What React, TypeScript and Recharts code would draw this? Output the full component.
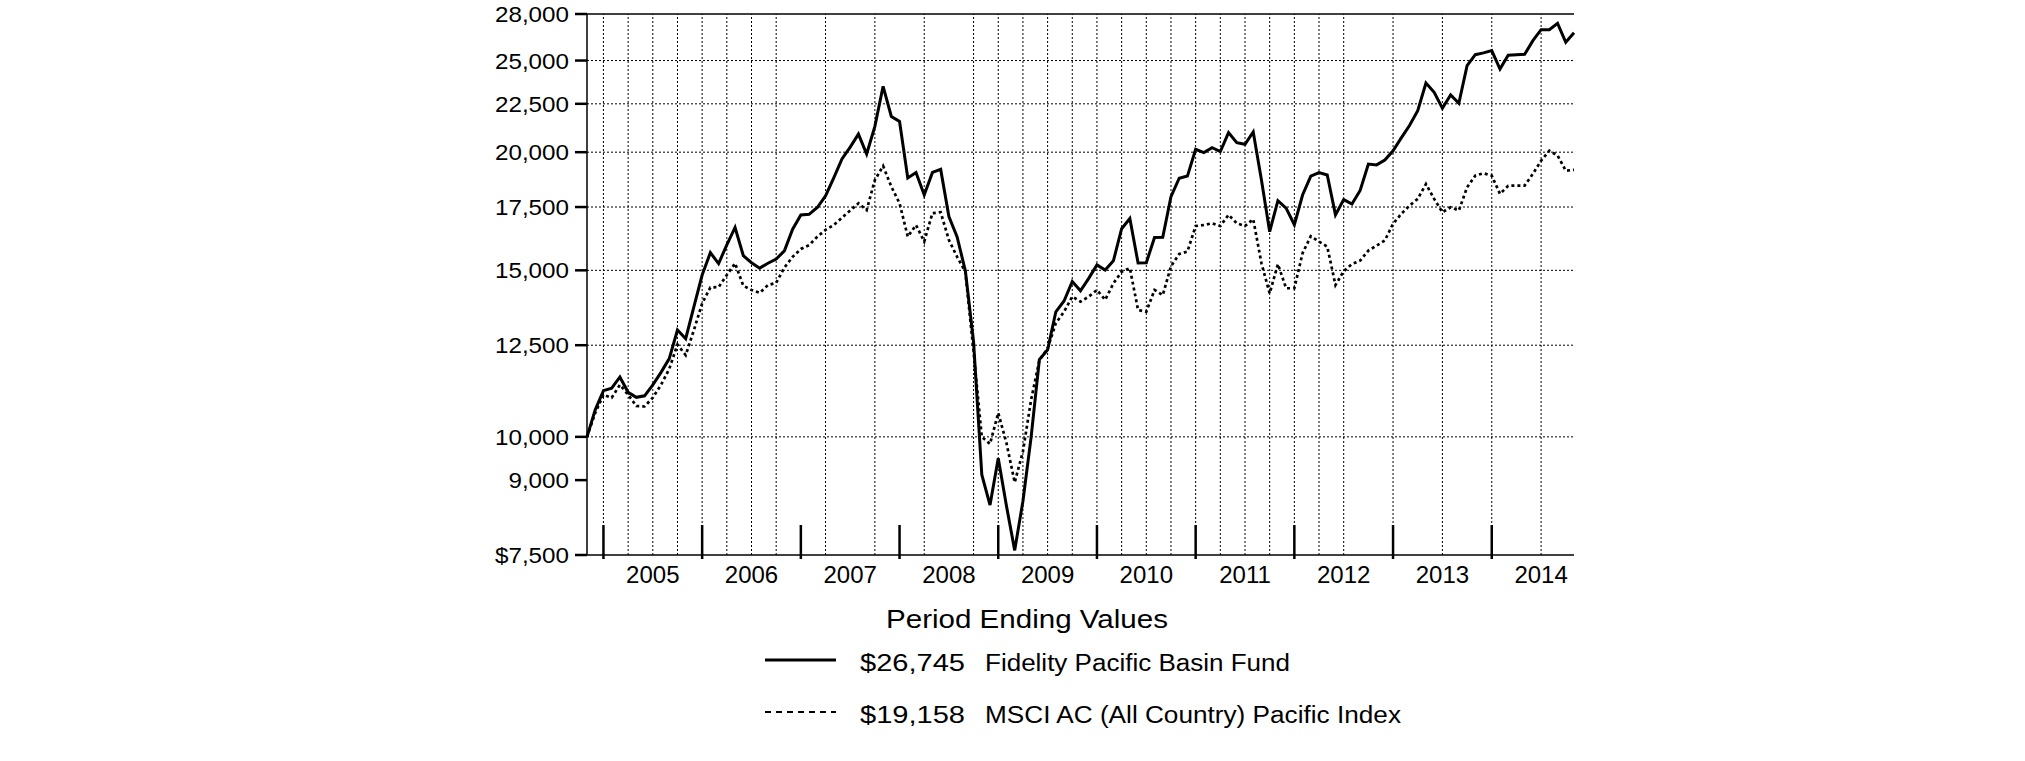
import { LineChart, Line, XAxis, YAxis, ReferenceLine } from "recharts";

// monthly period-ending values, Oct 2004 (m = 0) through Oct 2014 (m = 120)
const fund = [
  10000, 10680, 11190, 11260, 11570, 11145, 11010, 11050, 11350, 11700, 12100, 12970,
  12700, 13730, 14830, 15660, 15250, 15960, 16650, 15550, 15280, 15080, 15260, 15420,
  15730, 16580, 17165, 17190, 17480, 17980, 18790, 19670, 20250, 20900, 19910, 21300,
  23480, 21820, 21550, 18780, 19030, 18020, 19040, 19180, 17100, 16270, 14980, 12600,
  9120, 8470, 9490, 8450, 7585, 8550, 10000, 12070, 12360, 13560, 13920, 14600,
  14270, 14710, 15200, 15010, 15350, 16600, 17020, 15270, 15280, 16250, 16260, 17950,
  18770, 18870, 20140, 19980, 20220, 20030, 20980, 20470, 20390, 21010, 18690, 16480,
  17770, 17450, 16760, 18020, 18870, 19030, 18920, 17170, 17820, 17630, 18220, 19430,
  19390, 19620, 20070, 20710, 21340, 22130, 23670, 23140, 22260, 22990, 22530, 24690,
  25360, 25470, 25610, 24490, 25330, 25360, 25380, 26240, 26950, 26950, 27370, 26140,
  26745,
];

const msci = [
  10000, 10600, 11080, 11000, 11350, 11080, 10780, 10770, 11000, 11350, 11800, 12520,
  12200, 12970, 13840, 14390, 14400, 14830, 15260, 14450, 14300, 14200, 14470, 14550,
  15100, 15500, 15800, 15950, 16280, 16550, 16750, 17050, 17350, 17660, 17370, 18690,
  19340, 18390, 17660, 16280, 16750, 16090, 17240, 17280, 16150, 15500, 14950, 12300,
  10000, 9830, 10600, 9850, 8950, 9650, 10950, 12050, 12400, 13190, 13560, 14070,
  13900, 14070, 14300, 13960, 14530, 14950, 15080, 13620, 13560, 14300, 14120, 15150,
  15610, 15700, 16710, 16750, 16820, 16710, 17170, 16820, 16710, 16990, 15260, 14180,
  15230, 14360, 14360, 15640, 16300, 16090, 15890, 14470, 14970, 15230, 15360, 15740,
  15930, 16130, 16800, 17210, 17560, 17850, 18510, 17850, 17280, 17490, 17350, 18360,
  18890, 19000, 18890, 18070, 18430, 18440, 18440, 18970, 19590, 20070, 19840, 19120,
  19158,
];

const seriesNames = ["Fidelity Pacific Basin Fund", "MSCI AC (All Country) Pacific Index"];

const yearLabels = ["2005", "2006", "2007", "2008", "2009", "2010", "2011", "2012", "2013", "2014"];
const yearLabelMonths = [8, 20, 32, 44, 56, 68, 80, 92, 104, 116]; // mid-year
const yearEndMonths = [2, 14, 26, 38, 50, 62, 74, 86, 98, 110]; // Dec of each year
// quarter-end grid lines that show in the original
const gridMonths = [
  2, 5, 8, 11, 14, 17, 20, 23, 29, 35, 41, 47, 50, 53, 56, 59, 62, 65, 68, 71, 74, 77,
  80, 83, 86, 89, 92, 98, 104, 110, 116,
];

const yTicks = [7500, 9000, 10000, 12500, 15000, 17500, 20000, 22500, 25000, 28000];
const yGrid = [10000, 12500, 15000, 17500, 20000, 22500, 25000];

const data = fund.map((v, i) => ({ m: i, fund: v, msci: msci[i] }));
const xTicks = [...yearEndMonths, ...yearLabelMonths].sort((a, b) => a - b);

const FONT = '"Liberation Sans", Arial, sans-serif';

// rough Arial advance width, used to stretch labels like the original
function textWidth(s: string, size: number) {
  let w = 0;
  for (const ch of s) w += ch === "," ? 0.278 : 0.556;
  return w * size;
}

function fmtMoney(v: number) {
  return "$" + v.toLocaleString("en-US");
}

function YTick({ x, y, payload, index }: any) {
  const label = index === 0 ? fmtMoney(payload.value) : payload.value.toLocaleString("en-US");
  return (
    <text
      x={x}
      y={y}
      dy={8}
      textAnchor="end"
      fontSize={22}
      fontFamily={FONT}
      fill="#000"
      textLength={textWidth(label, 22) * 1.1}
      lengthAdjust="spacingAndGlyphs"
    >
      {label}
    </text>
  );
}

function XTick({ x, y, payload }: any) {
  const v = payload.value;
  if (yearEndMonths.includes(v)) {
    return <line x1={x} x2={x} y1={y - 30} y2={y + 4} stroke="#000" strokeWidth={2.5} />;
  }
  const k = yearLabelMonths.indexOf(v);
  return (
    <text x={x} y={y + 28} textAnchor="middle" fontSize={24} fontFamily={FONT} fill="#000">
      {yearLabels[k]}
    </text>
  );
}

export default function App() {
  const finals = [fund[fund.length - 1], msci[msci.length - 1]];
  const rowY = [660, 712];

  return (
    <div style={{ position: "absolute", left: 0, top: 0, width: 2025, height: 761, background: "#fff" }}>
      <LineChart
        width={2025}
        height={761}
        data={data}
        margin={{ top: 14, right: 451, left: 487, bottom: 166 }}
      >
        <XAxis
          dataKey="m"
          type="number"
          domain={[0, 120]}
          ticks={xTicks}
          interval={0}
          tick={<XTick />}
          tickLine={false}
          tickSize={0}
          tickMargin={0}
          height={40}
          axisLine={{ stroke: "#000", strokeWidth: 1.5 }}
        />
        <YAxis
          type="number"
          scale="log"
          domain={[7500, 28000]}
          allowDataOverflow
          ticks={yTicks}
          interval={0}
          width={100}
          tickSize={12}
          tickMargin={6}
          tick={<YTick />}
          tickLine={{ stroke: "#000", strokeWidth: 2.5 }}
          axisLine={{ stroke: "#000", strokeWidth: 1.5 }}
        />
        {yGrid.map((v) => (
          <ReferenceLine key={"h" + v} y={v} stroke="#000" strokeWidth={1} strokeDasharray="2 2" />
        ))}
        {gridMonths.map((m) => (
          <ReferenceLine key={"v" + m} x={m} stroke="#000" strokeWidth={1} strokeDasharray="2 2" />
        ))}
        <ReferenceLine y={28000} stroke="#000" strokeWidth={1.5} />
        <Line
          type="linear"
          dataKey="msci"
          stroke="#000"
          strokeWidth={2.7}
          strokeDasharray="3 3"
          dot={false}
          isAnimationActive={false}
        />
        <Line
          type="linear"
          dataKey="fund"
          stroke="#000"
          strokeWidth={3}
          dot={false}
          isAnimationActive={false}
        />
      </LineChart>

      <svg
        width={2025}
        height={761}
        style={{ position: "absolute", left: 0, top: 0, pointerEvents: "none" }}
        fontFamily={FONT}
      >
        <text x={886} y={628} fontSize={26} fill="#000" textLength={282} lengthAdjust="spacingAndGlyphs">
          Period Ending Values
        </text>
        {seriesNames.map((name, i) => (
          <g key={name}>
            <line
              x1={765}
              x2={836}
              y1={rowY[i]}
              y2={rowY[i]}
              stroke="#000"
              strokeWidth={i === 0 ? 3 : 2}
              strokeDasharray={i === 0 ? undefined : "6 5"}
            />
            <text
              x={860}
              y={rowY[i] + 11}
              fontSize={23}
              fill="#000"
              textLength={105}
              lengthAdjust="spacingAndGlyphs"
            >
              {fmtMoney(finals[i])}
            </text>
            <text
              x={985}
              y={rowY[i] + 11}
              fontSize={23}
              fill="#000"
              textLength={i === 0 ? 305 : 416}
              lengthAdjust="spacingAndGlyphs"
            >
              {name}
            </text>
          </g>
        ))}
      </svg>
    </div>
  );
}
